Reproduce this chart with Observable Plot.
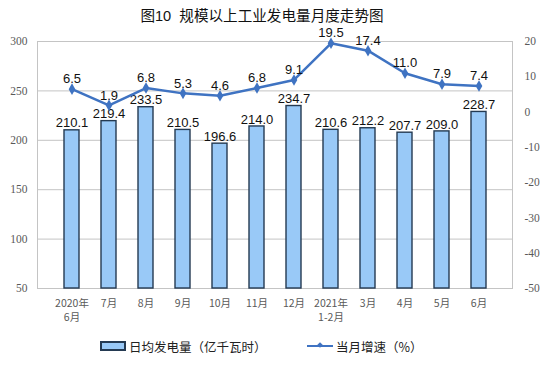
<!DOCTYPE html>
<html><head><meta charset="utf-8">
<script src="https://cdn.jsdelivr.net/npm/d3@7"></script>
<script src="https://cdn.jsdelivr.net/npm/@observablehq/plot@0.6"></script>
<style>
body{margin:0;background:#fff;}
#wrap{position:relative;width:550px;height:378px;overflow:hidden;}
#title{position:absolute;left:0;top:9px;width:524px;text-align:center;font:14.6px/15px "Liberation Sans","Noto Sans CJK SC";color:#111;}
#legend{position:absolute;top:336px;left:0;width:550px;height:20px;font:12.5px "Noto Sans CJK SC";color:#222;}
.item{position:absolute;top:0;display:flex;align-items:center;height:20px;}
.sw{display:inline-block;width:22px;height:6px;background:#99c9f7;border:2px solid #243a52;margin-right:3px;}
.ln{position:relative;display:inline-block;width:26px;height:2px;background:#3f73c2;margin-right:3px;}
.ln:after{content:"";position:absolute;left:11px;top:-2px;width:4px;height:4px;background:#3f73c2;transform:rotate(45deg);}
</style></head>
<body><div id="wrap"><div id="chart"></div><div id="title">图10&nbsp; 规模以上工业发电量月度走势图</div>
<div id="legend"><div class="item" style="left:100px"><span class="sw"></span>日均发电量（亿千瓦时）</div>
<div class="item" style="left:307px"><span class="ln"></span>当月增速（%）</div></div></div>
<script>
const months = ["2020年\n6月","7月","8月","9月","10月","11月","12月","2021年\n1-2月","3月","4月","5月","6月"];
const output = [210.1,219.4,233.5,210.5,196.6,214.0,234.7,210.6,212.2,207.7,209.0,228.7];
const growth = [6.5,1.9,6.8,5.3,4.6,6.8,9.1,19.5,17.4,11.0,7.9,7.4];
const leftTicks = [50,100,150,200,250,300];
const rightTicks = [-50,-40,-30,-20,-10,0,10,20];

const toLeft = g => 50 + (g + 50) * 250 / 70;
const toRight = v => (v - 50) * 70 / 250 - 50;
const data = months.map((m,i)=>({m, v: output[i], g: growth[i], gy: toLeft(growth[i])}));
const axisFont = {fontFamily:"Liberation Serif", fontSize: 11.5};
const chart = Plot.plot({
  width: 550, height: 330,
  marginTop: 41, marginBottom: 42, marginLeft: 37, marginRight: 38,
  x: {type:"band", domain: months, padding: 0.6, align: 0.5},
  y: {domain:[50,300]},
  style: {fontFamily:"Liberation Sans", color:"#595959"},
  marks: [
    Plot.frame({anchor:"left", stroke:"#c4c4c4"}),
    Plot.frame({anchor:"right", stroke:"#c4c4c4"}),
    Plot.ruleY([50], {stroke:"#c4c4c4"}),
    Plot.axisY({anchor:"left", ticks: leftTicks, tickSize: 0, tickPadding: 10, label: null, ...axisFont, fill:"#595959"}),
    Plot.tickY(leftTicks, {y: d=>d, stroke:"#c4c4c4"}),
    Plot.axisY({anchor:"right", ticks: rightTicks.map(toLeft), tickFormat: d => String(Math.round(toRight(d))), tickSize: 0, tickPadding: 12, label: null, ...axisFont, fill:"#595959"}),
    Plot.axisX({tickSize: 0, tickPadding: 9, label: null, fontFamily:"Noto Sans CJK SC", fontSize: 10.5, fill:"#595959", lineHeight: 1.3}),
    Plot.barY(data, {x:"m", y1: 50, y2:"v", fill:"#99c9f7", stroke:"#243a52", strokeWidth:1.4}),
    Plot.text(data, {x:"m", y:"v", text: d=>d.v.toFixed(1), dy:-7, fontSize:13, fill:"#111", fontFamily:"Liberation Sans"}),
    Plot.line(data, {x:"m", y:"gy", stroke:"#3f73c2", strokeWidth:2.5}),
    Plot.dot(data, {x:"m", y:"gy", symbol:"diamond", r:3.5, fill:"#3f73c2"}),
    Plot.text(data, {x:"m", y:"gy", text: d=>d.g.toFixed(1), dy:-10, fontSize:13, fill:"#111", fontFamily:"Liberation Sans"})
  ]
});
document.getElementById("chart").appendChild(chart);
</script></body></html>
